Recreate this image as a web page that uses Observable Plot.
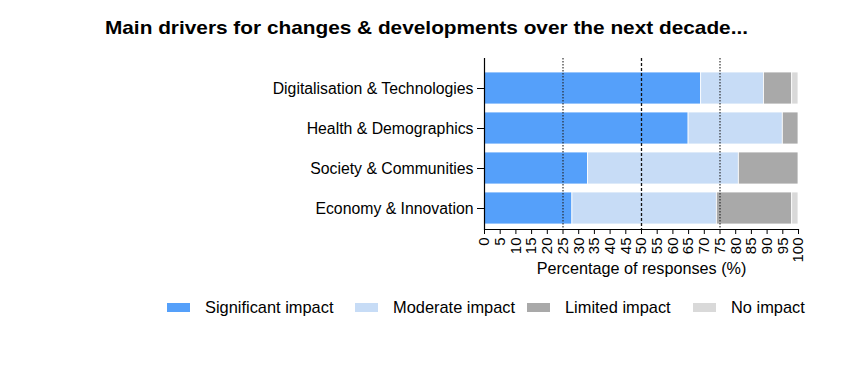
<!DOCTYPE html>
<html>
<head>
<meta charset="utf-8">
<script src="https://cdn.jsdelivr.net/npm/d3@7"></script>
<script src="https://cdn.jsdelivr.net/npm/@observablehq/plot@0.6"></script>
<style>
  body { margin: 0; background: white; font-family: "Liberation Sans", Arial, sans-serif; }
  #wrap { position: relative; width: 850px; height: 366px; overflow: hidden; }
  #title { position: absolute; left: 0; width: 853px; top: 19px; text-align: center; font-weight: bold; font-size: 18.5px; line-height: 1; color: #000; white-space: nowrap; transform: scaleX(1.125); transform-origin: 426.5px 0; }
  #chart { position: absolute; left: 0; top: 0; }
  .sw { position: absolute; height: 9px; width: 23px; }
  .lt { position: absolute; font-size: 16.4px; color: #000; white-space: nowrap; line-height: 1; }
</style>
</head>
<body>
<div id="wrap">
  <div id="chart"></div>
  <div id="title">Main drivers for changes &amp; developments over the next decade...</div>
  <div id="legend"></div>
</div>
<script>
const categories = ["Digitalisation & Technologies", "Health & Demographics", "Society & Communities", "Economy & Innovation"];
const series = ["Significant impact", "Moderate impact", "Limited impact", "No impact"];
const significant = [69, 65, 33, 28];
const moderate = [20, 30, 48, 46];
const limited = [9, 5, 19, 24];
const noImpact = [2, 0, 0, 2];
const xTicks = [0, 5, 10, 15, 20, 25, 30, 35, 40, 45, 50, 55, 60, 65, 70, 75, 80, 85, 90, 95, 100];
const dottedRefs = [25, 75];
const dashedRefs = [50];
const colors = ["#55a0fa", "#c7dcf6", "#a9a9a9", "#d9d9d9"];

const seriesValues = [significant, moderate, limited, noImpact];
const data = categories.flatMap((c, i) =>
  series.map((s, j) => ({category: c, series: s, value: seriesValues[j][i]}))
);

const chart = Plot.plot({
  width: 850,
  height: 366,
  marginLeft: 484,
  marginRight: 52,
  marginTop: 58,
  marginBottom: 137,
  style: {fontFamily: "'Liberation Sans', Arial, sans-serif", fontSize: "15px", color: "#000", background: "transparent"},
  x: {domain: [0, 100]},
  y: {domain: categories, range: [70, 226], paddingInner: 0.19, paddingOuter: 0},
  color: {domain: series, range: colors},
  marks: [
    Plot.barX(data, {y: "category", x: "value", fill: "series", stroke: "white", strokeWidth: 0.8}),
    Plot.ruleX(dottedRefs, {stroke: "#222", strokeWidth: 1.1, strokeDasharray: "1.5,1.5"}),
    Plot.ruleX(dashedRefs, {stroke: "#111", strokeWidth: 1.3, strokeDasharray: "3,2"}),
    Plot.ruleX([0], {stroke: "#000", strokeWidth: 1.2}),
    Plot.frame({anchor: "bottom", stroke: "#000", strokeWidth: 1.2}),
    Plot.axisX({ticks: xTicks, tickRotate: -90, tickSize: 5, tickPadding: 3, fontSize: 15, label: null}),
    Plot.axisX({ticks: [], fontSize: 16.2, label: "Percentage of responses (%)", labelAnchor: "center", labelArrow: "none", labelOffset: 44}),
    Plot.axisY({tickSize: 7, tickPadding: 4, fontSize: 15.8, label: null})
  ]
});
document.getElementById("chart").append(chart);

const legendX = [167, 355, 527, 693];
const legend = document.getElementById("legend");
series.forEach((s, i) => {
  const sw = document.createElement("div");
  sw.className = "sw";
  sw.style.left = legendX[i] + "px";
  sw.style.top = "303px";
  sw.style.background = colors[i];
  legend.append(sw);
  const t = document.createElement("div");
  t.className = "lt";
  t.style.left = (legendX[i] + 38) + "px";
  t.style.top = "299px";
  t.textContent = s;
  legend.append(t);
});
</script>
</body>
</html>
